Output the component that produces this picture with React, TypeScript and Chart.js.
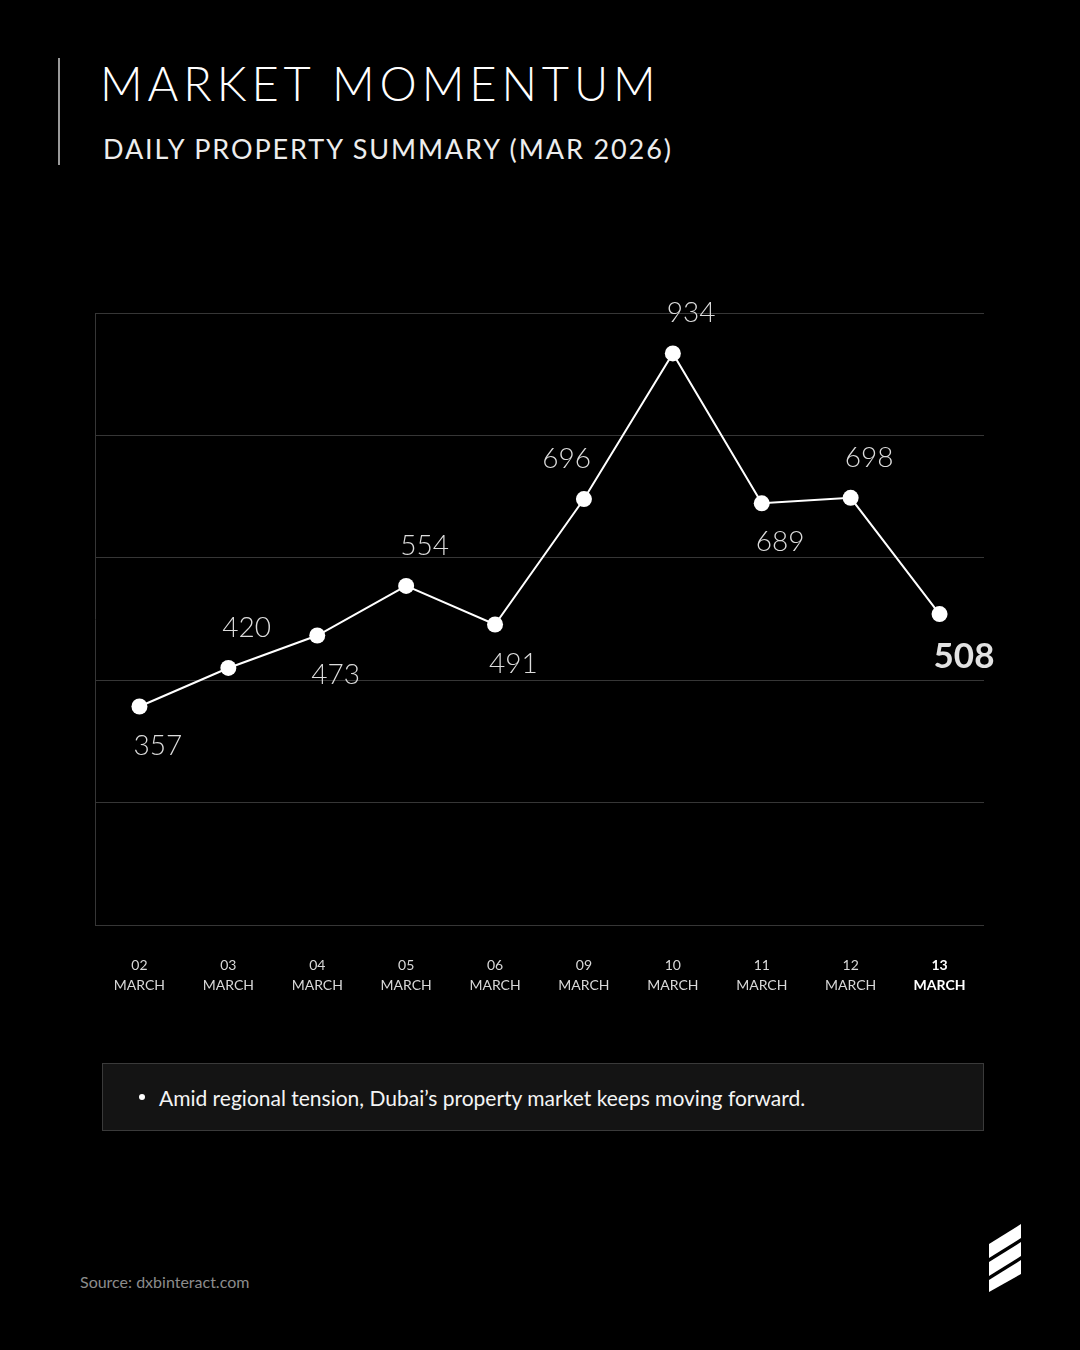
import React, { useEffect, useRef } from "react";
import { Chart, registerables } from "chart.js";

Chart.register(...registerables);

const days = ["02", "03", "04", "05", "06", "09", "10", "11", "12", "13"];
const monthName = "MARCH";
const transactions = [357, 420, 473, 554, 491, 696, 934, 689, 698, 508];
const labelSide = ["below", "above", "below", "above", "below", "above-left", "above", "below", "above", "below"];
const yMin = 0;
const yMax = 1000;
const yStep = 200;

const FONT = "Lato, 'Open Sans', sans-serif";

const valueLabels = {
  id: "valueLabels",
  afterDatasetsDraw(chart: any) {
    const ctx = chart.ctx;
    const meta = chart.getDatasetMeta(0);
    const last = transactions.length - 1;
    ctx.save();
    meta.data.forEach((pt: any, i: number) => {
      const side = labelSide[i];
      const isLast = i === last;
      ctx.font = isLast ? `700 35px ${FONT}` : `300 28px ${FONT}`;
      ctx.fillStyle = isLast ? "#e2e2e2" : "#dcdcdc";
      ctx.textBaseline = "middle";
      let y = pt.y + (side.startsWith("above") ? -40 : 39);
      if (isLast) y += 4;
      if (side === "above-left") {
        ctx.textAlign = "right";
        ctx.fillText(String(transactions[i]), pt.x + 7, y);
      } else {
        ctx.textAlign = "left";
        ctx.fillText(String(transactions[i]), pt.x - 6, y);
      }
    });
    ctx.restore();
  },
};

function LineChart() {
  const ref = useRef<HTMLCanvasElement>(null);
  useEffect(() => {
    const last = days.length - 1;
    const chart = new Chart(ref.current!, {
      type: "line",
      data: {
        labels: days.map((d) => [d, monthName]),
        datasets: [
          {
            data: transactions,
            borderColor: "#ffffff",
            borderWidth: 2,
            backgroundColor: "#ffffff",
            pointBackgroundColor: "#ffffff",
            pointBorderColor: "#ffffff",
            pointRadius: 8,
            pointBorderWidth: 0,
            tension: 0,
            clip: false as any,
          },
        ],
      },
      options: {
        animation: false,
        responsive: true,
        maintainAspectRatio: false,
        layout: { padding: { left: 95, right: 96, top: 33, bottom: 0 } },
        plugins: { legend: { display: false }, tooltip: { enabled: false } },
        scales: {
          x: {
            offset: true,
            grid: { display: false, drawTicks: false },
            border: { display: false },
            afterFit: (s: any) => {
              s.height = 95;
            },
            ticks: {
              autoSkip: false,
              maxRotation: 0,
              padding: 30,
              color: (c: any) => (c.index === last ? "#ffffff" : "#d8d8d8"),
              font: (c: any) => ({
                family: FONT,
                size: 14,
                weight: c.index === last ? "bold" : "normal",
                lineHeight: 1.45,
              }),
            },
          },
          y: {
            min: yMin,
            max: yMax,
            ticks: { display: false, stepSize: yStep },
            grid: { color: "#363636", lineWidth: 1, drawTicks: false },
            border: { display: true, color: "#363636", width: 1 },
            afterFit: (s: any) => {
              s.width = 0;
            },
          },
        },
      },
      plugins: [valueLabels],
    });
    return () => chart.destroy();
  }, []);
  return <canvas ref={ref} />;
}

export default function App() {
  useEffect(() => {
    document.body.style.margin = "0";
    document.body.style.background = "#000";
  }, []);
  return (
    <div
      style={{
        position: "absolute",
        left: 0,
        top: 0,
        width: 1080,
        height: 1350,
        background: "#000",
        overflow: "hidden",
        fontFamily: FONT,
        color: "#fff",
      }}
    >
      <div style={{ position: "absolute", left: 58, top: 58, width: 2, height: 107, background: "#9a9a9a" }} />
      <div
        style={{
          position: "absolute",
          left: 100,
          top: 60,
          fontSize: 47,
          lineHeight: "47px",
          fontWeight: 300,
          letterSpacing: 4.9,
          whiteSpace: "nowrap",
          color: "#ffffff",
        }}
      >
        MARKET MOMENTUM
      </div>
      <div
        style={{
          position: "absolute",
          left: 103,
          top: 135,
          fontSize: 27,
          lineHeight: "27px",
          fontWeight: 400,
          letterSpacing: 1.9,
          whiteSpace: "nowrap",
          color: "#ededed",
        }}
      >
        DAILY PROPERTY SUMMARY (MAR 2026)
      </div>
      <div style={{ position: "absolute", left: 0, top: 280, width: 1080, height: 740 }}>
        <LineChart />
      </div>
      <div
        style={{
          position: "absolute",
          left: 102,
          top: 1063,
          width: 880,
          height: 66,
          background: "#141414",
          border: "1px solid #3a3a3a",
          display: "flex",
          alignItems: "center",
        }}
      >
        <div style={{ width: 6, height: 6, borderRadius: 3, background: "#fff", marginLeft: 36, marginRight: 14 }} />
        <div style={{ fontSize: 21, color: "#f4f4f4", whiteSpace: "nowrap" }}>
          Amid regional tension, Dubai’s property market keeps moving forward.
        </div>
      </div>
      <div style={{ position: "absolute", left: 80, top: 1272, fontSize: 16, lineHeight: "19px", color: "#8c8c8c" }}>
        Source: dxbinteract.com
      </div>
      <svg style={{ position: "absolute", left: 988, top: 1222 }} width={36} height={72} viewBox="0 0 36 72">
        <polygon points="1,22 33,2 33,16 1,36" fill="#fff" />
        <polygon points="1,40 33,20 33,34 1,54" fill="#fff" />
        <polygon points="1,58 33,38 33,52 1,70" fill="#fff" />
      </svg>
    </div>
  );
}
